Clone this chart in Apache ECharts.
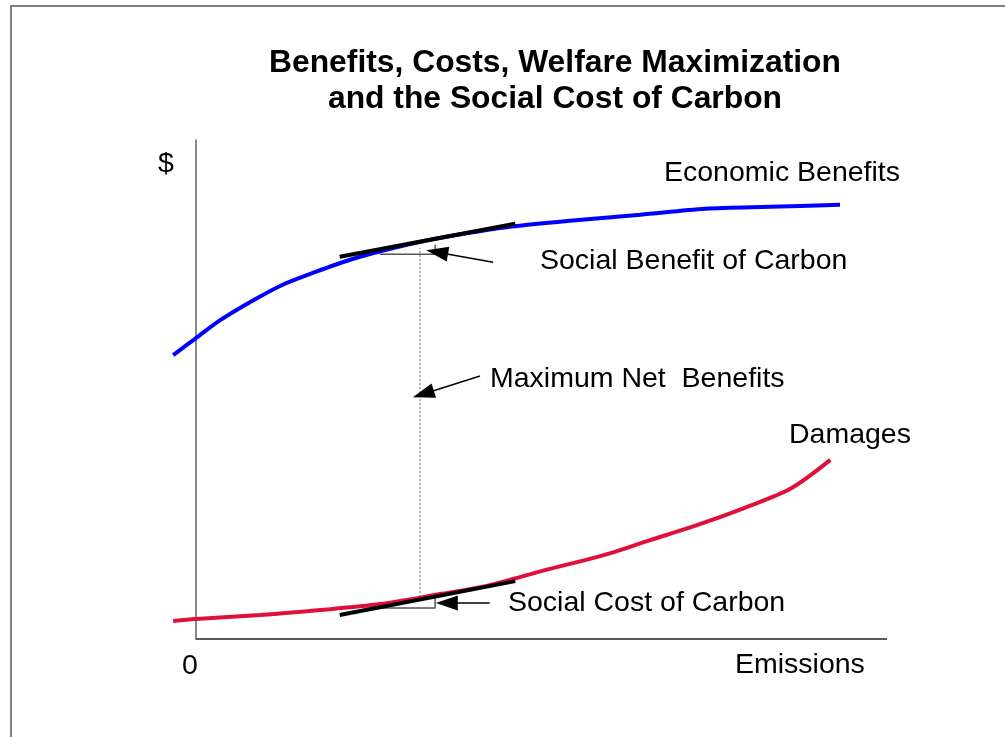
<!DOCTYPE html>
<html>
<head>
<meta charset="utf-8">
<script src="https://cdn.jsdelivr.net/npm/echarts@6/dist/echarts.min.js"></script>
<style>html,body{margin:0;padding:0;background:#fff}#c{width:1005px;height:737px}</style>
</head>
<body>
<div id="c"></div>
<script>
// ---- data (x: emissions 0..100, y: $ 0..100) ----
const emissionsBenefit = [-3.3, 0, 3.5, 7.8, 12.4, 17.2, 22.3, 28.1, 33.9, 39.6, 45.4, 54.1, 64.3, 73.7, 83.1, 93.2];
const economicBenefits = [56.9, 60.3, 63.9, 67.5, 70.9, 73.5, 76.0, 78.2, 80.0, 81.4, 82.6, 83.8, 85.0, 86.2, 86.6, 87.0];
const emissionsDamage = [-3.3, 0, 9.3, 18.0, 26.6, 35.3, 42.5, 50.5, 58.5, 65.7, 72.9, 79.4, 86.0, 91.8];
const damages = [3.6, 4.0, 4.8, 5.8, 7.0, 9.0, 10.8, 13.8, 16.6, 19.8, 23.0, 26.3, 30.1, 35.9];
const tangentX = [20.8, 46.2];
const benefitTangentY = [76.6, 83.2];
const costTangentY = [4.8, 11.6];
const optimumX = 32.4;
const optimumSpanY = [8.4, 78.4];
const bracketX = [26.6, 34.6, 34.6];
const benefitBracketY = [77.1, 77.1, 79.0];
const costBracketY = [6.2, 6.2, 8.4];
const arrowsFrom = [[43.0, 75.5], [41.1, 52.7], [42.5, 7.2]];
const arrowsTo = [[34.9, 77.5], [32.9, 49.1], [36.3, 7.2]];
const xAxisSpan = [0, 100];
const titleLines = ['Benefits, Costs, Welfare Maximization', 'and the Social Cost of Carbon'];
const xTickLabels = ['0'];

const zip = (xs, ys) => xs.map((x, i) => [x, ys[i]]);
const chart = echarts.init(document.getElementById('c'));
const FONT = 'Liberation Sans, Arial, sans-serif';
const txt = (text, x, y) => ({ type: 'text', x: x, y: y,
  style: { text, fontFamily: FONT, fontSize: 28.5, fill: '#000', textVerticalAlign: 'middle' } });

chart.setOption({
  animation: false,
  backgroundColor: '#fff',
  grid: { left: 161.45, right: 118, top: 140, bottom: 98 },
  xAxis: {
    type: 'value', min: -5, max: 100, interval: 5,
    axisLine: { show: false },
    axisTick: { show: false }, splitLine: { show: false },
    axisLabel: {
      margin: 13, color: '#000', fontSize: 28.5, fontFamily: FONT,
      padding: [0, 12, 0, 0], showMinLabel: true,
      formatter: v => (v === 0 ? xTickLabels[0] : '')
    }
  },
  yAxis: {
    type: 'value', min: 0, max: 100,
    axisLine: { show: true, onZero: true, lineStyle: { color: '#666', width: 1.5 } },
    axisTick: { show: false }, splitLine: { show: false }, axisLabel: { show: false }
  },
  series: [
    { type: 'line', data: zip(emissionsBenefit, economicBenefits), smooth: 0.3, symbol: 'none',
      lineStyle: { color: '#0000ff', width: 4 }, z: 3,
      markLine: {
        silent: true, symbol: 'none', label: { show: false },
        lineStyle: { color: '#222', width: 1.5, type: 'solid' },
        data: [[{ coord: [xAxisSpan[0], 0] }, { coord: [xAxisSpan[1], 0] }]]
      }
    },
    { type: 'line', data: zip(emissionsDamage, damages), smooth: 0.3, symbol: 'none',
      lineStyle: { color: '#e0103c', width: 4 }, z: 3 },
    { type: 'line', data: zip(tangentX, benefitTangentY), symbol: 'none', lineStyle: { color: '#000', width: 4 }, z: 4 },
    { type: 'line', data: zip(tangentX, costTangentY), symbol: 'none', lineStyle: { color: '#000', width: 4 }, z: 4 },
    { type: 'line', data: [[optimumX, optimumSpanY[0]], [optimumX, optimumSpanY[1]]], symbol: 'none',
      lineStyle: { color: '#999', width: 1.5, type: [2, 2] }, z: 2 },
    { type: 'line', data: zip(bracketX, benefitBracketY), symbol: 'none', lineStyle: { color: '#555', width: 1.5 }, z: 2 },
    { type: 'line', data: zip(bracketX, costBracketY), symbol: 'none', lineStyle: { color: '#555', width: 1.5 }, z: 2,
      markLine: {
        silent: true, symbol: ['none', 'triangle'], symbolSize: [15, 22],
        label: { show: false },
        lineStyle: { color: '#000', width: 1.5, type: 'solid' },
        itemStyle: { color: '#000' },
        data: arrowsFrom.map((f, i) => [{ coord: f }, { coord: arrowsTo[i] }])
      }
    }
  ],
  graphic: [
    { type: 'polyline', shape: { points: [[11, 737], [11, 6], [1005, 6]] }, style: { stroke: '#555', lineWidth: 1.5, fill: null } },
    { type: 'text', x: 555, y: 81, style: {
        text: titleLines.join('\n'), fontFamily: FONT, fontSize: 31.8, fontWeight: 'bold',
        lineHeight: 36, textAlign: 'center', textVerticalAlign: 'middle', fill: '#000' } },
    txt('$', 158, 164),
    txt('Economic Benefits', 664, 173),
    txt('Social Benefit of Carbon', 540, 261),
    txt('Maximum Net  Benefits', 490, 379),
    txt('Damages', 789, 435),
    txt('Social Cost of Carbon', 508, 603),
    txt('Emissions', 735, 665)
  ]
});
</script>
</body>
</html>
